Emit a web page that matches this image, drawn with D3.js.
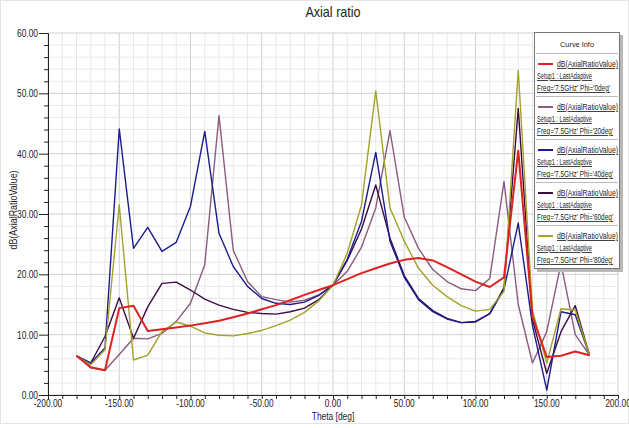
<!DOCTYPE html>
<html>
<head>
    <meta charset="utf-8">
    <title>Axial ratio</title>
    <script src="https://d3js.org/d3.v7.min.js"></script>
    <style>
        body { margin: 0; background: #fff; }
        text { font-family: "Liberation Sans", Arial, sans-serif; }
    </style>
</head>
<body>
    <div id="chart"></div>

    <script>
        const theta = [-180, -170, -160, -150, -140, -130, -120, -110, -100, -90, -80, -70, -60, -50, -40, -30, -20, -10,
                       0, 10, 20, 30, 40, 50, 60, 70, 80, 90, 100, 110, 120, 130, 140, 150, 160, 170, 180];

        const phi0  = [6.5, 4.6, 4.1, 14.4, 14.8, 10.6, 10.9, 11.2, 11.5, 11.9, 12.3, 12.9, 13.5, 14.2, 14.9, 15.7, 16.6, 17.4,
                       18.2, 19.2, 20.2, 21.0, 21.8, 22.4, 22.7, 22.3, 21.2, 20.0, 18.8, 17.9, 19.5, 40.5, 13.0, 6.3, 6.5, 7.2, 6.6];
        const phi20 = [6.5, 4.5, 4.1, 6.7, 9.4, 9.3, 10.2, 12.2, 15.2, 21.6, 46.3, 24.0, 18.8, 16.3, 15.8, 15.4, 15.7, 16.6,
                       18.2, 20.5, 24.5, 31.0, 43.8, 29.5, 24.3, 20.8, 18.8, 17.6, 17.3, 19.3, 35.4, 15.0, 5.3, 10.5, 21.8, 10.0, 6.6];
        const phi40 = [6.5, 5.3, 7.8, 44.1, 24.3, 27.8, 23.8, 25.3, 31.3, 43.7, 26.8, 21.3, 18.0, 16.0, 15.2, 15.0, 15.4, 16.5,
                       18.2, 22.5, 28.8, 40.2, 25.5, 19.5, 15.8, 13.8, 12.6, 12.0, 12.2, 13.5, 17.5, 28.5, 11.5, 0.8, 13.8, 13.3, 6.6];
        const phi60 = [6.5, 5.3, 9.7, 16.1, 9.4, 14.6, 18.5, 18.7, 17.4, 15.9, 14.9, 14.2, 13.7, 13.5, 13.4, 13.8, 14.4, 15.8,
                       18.2, 22.3, 27.5, 34.8, 26.0, 19.8, 16.0, 14.0, 12.7, 12.0, 12.1, 13.5, 17.8, 47.5, 12.5, 3.6, 10.5, 14.8, 6.6];
        const phi80 = [6.5, 5.0, 7.5, 31.5, 5.8, 6.6, 10.5, 12.1, 11.4, 10.3, 9.9, 9.8, 10.2, 10.7, 11.5, 12.4, 13.7, 15.6,
                       18.2, 23.5, 31.5, 50.4, 31.0, 25.5, 21.0, 18.2, 16.3, 14.8, 13.9, 14.2, 17.2, 53.8, 14.0, 5.3, 14.3, 14.1, 6.6];

        const seriesNames = ["Phi='0deg'", "Phi='20deg'", "Phi='40deg'", "Phi='60deg'", "Phi='80deg'"];
        const seriesValues = [phi0, phi20, phi40, phi60, phi80];
        const seriesColors = ["#dd2222", "#8c5c7c", "#1c1c90", "#3c0c44", "#a3a22a"];
        const seriesWidths = [2, 1.4, 1.4, 1.4, 1.4];
        const drawOrder = [1, 3, 2, 4, 0];

        const xTicks = [-200, -150, -100, -50, 0, 50, 100, 150, 200];
        const yTicks = [0, 10, 20, 30, 40, 50, 60];

        const W = 629, H = 428;
        const margin = {top: 33, right: 11, bottom: 33, left: 48};
        const width = W - margin.left - margin.right;
        const height = H - margin.top - margin.bottom;
        const narrow = 0.8;   // squeeze text to look like Arial Narrow
        const fmt = d => d3.format(".2f")(d).replace("\u2212", "-");

        const svg = d3.select("#chart").append("svg")
            .attr("width", W)
            .attr("height", H);

        svg.append("rect")
            .attr("x", 0.5).attr("y", 0.5)
            .attr("width", W - 1).attr("height", H - 5)
            .attr("fill", "#fff")
            .attr("stroke", "#e4e4e4");

        const g = svg.append("g")
            .attr("transform", "translate(" + margin.left + "," + margin.top + ")");

        const x = d3.scaleLinear().domain([-200, 200]).range([0, width]);
        const y = d3.scaleLinear().domain([0, 60]).range([height, 0]);

        // grid: minor every 10 deg / 2 dB, major every 50 deg / 10 dB
        g.append("g").selectAll("line")
            .data(d3.range(-200, 201, 10))
            .enter().append("line")
            .attr("x1", d => x(d)).attr("x2", d => x(d))
            .attr("y1", 0).attr("y2", height)
            .attr("stroke", d => d % 50 === 0 ? "#cfcfcf" : "#e8e8e8");

        g.append("g").selectAll("line")
            .data(d3.range(0, 61, 2))
            .enter().append("line")
            .attr("x1", 0).attr("x2", width)
            .attr("y1", d => y(d)).attr("y2", d => y(d))
            .attr("stroke", d => d % 10 === 0 ? "#cfcfcf" : "#e8e8e8");

        // axes
        const xAxis = g.append("g")
            .attr("transform", "translate(0," + height + ")")
            .call(d3.axisBottom(x).tickValues(d3.range(-200, 201, 10)).tickSize(4).tickFormat(""));
        xAxis.append("g").selectAll("text")
            .data(xTicks)
            .enter().append("text")
            .attr("transform", d => "translate(" + x(d) + ",12) scale(" + narrow + ",1)")
            .attr("text-anchor", "middle")
            .attr("fill", "#222")
            .attr("font-size", 10.5)
            .text(fmt);

        const yAxis = g.append("g")
            .call(d3.axisLeft(y).tickValues(d3.range(0, 61, 2)).tickSize(4).tickFormat(""));
        yAxis.selectAll(".tick line")
            .attr("x2", d => d % 10 === 0 ? -9 : -4);
        yAxis.append("g").selectAll("text")
            .data(yTicks)
            .enter().append("text")
            .attr("transform", d => "translate(-10," + (y(d) + 4) + ") scale(" + narrow + ",1)")
            .attr("text-anchor", "end")
            .attr("fill", "#222")
            .attr("font-size", 10.5)
            .text(fmt);

        g.selectAll(".domain").attr("stroke", "#222");
        g.selectAll(".tick line").attr("stroke", "#222");

        // curves
        const line = d3.line()
            .x((d, i) => x(theta[i]))
            .y(d => y(d));

        g.append("g").selectAll("path")
            .data(drawOrder)
            .enter().append("path")
            .attr("d", k => line(seriesValues[k]))
            .attr("fill", "none")
            .attr("stroke", k => seriesColors[k])
            .attr("stroke-width", k => seriesWidths[k])
            .attr("stroke-linejoin", "round");

        // titles
        svg.append("text")
            .attr("transform", "translate(333,17) scale(0.9,1)")
            .attr("text-anchor", "middle")
            .attr("font-size", 14)
            .attr("fill", "#222")
            .text("Axial ratio");

        svg.append("text")
            .attr("transform", "translate(" + (margin.left + x(0)) + ",420) scale(" + narrow + ",1)")
            .attr("text-anchor", "middle")
            .attr("font-size", 10.5)
            .attr("fill", "#222")
            .text("Theta [deg]");

        svg.append("text")
            .attr("transform", "translate(17,210) rotate(-90) scale(0.85,1)")
            .attr("text-anchor", "middle")
            .attr("font-size", 10.5)
            .attr("fill", "#222")
            .text("dB(AxialRatioValue)");

        // legend
        const lg = svg.append("g").attr("transform", "translate(534,32)");
        const entryH = 43;
        lg.append("rect")
            .attr("x", 3).attr("y", 3)
            .attr("width", 86).attr("height", 237)
            .attr("fill", "#b8b8b8");
        lg.append("rect")
            .attr("x", 0.5).attr("y", 0.5)
            .attr("width", 85).attr("height", 236)
            .attr("fill", "#fff")
            .attr("stroke", "#777");
        lg.append("text")
            .attr("x", 43).attr("y", 15)
            .attr("text-anchor", "middle")
            .attr("font-size", 8)
            .attr("textLength", 34)
            .attr("lengthAdjust", "spacingAndGlyphs")
            .attr("fill", "#222")
            .text("Curve Info");

        const entries = lg.selectAll("g.entry")
            .data(seriesNames)
            .enter().append("g")
            .attr("class", "entry")
            .attr("transform", (d, i) => "translate(0," + (21 + i * entryH) + ")");

        entries.append("line")
            .attr("x1", 2).attr("x2", 84)
            .attr("y1", 0.5).attr("y2", 0.5)
            .attr("stroke", "#bbb");
        entries.append("line")
            .attr("x1", 4).attr("x2", 19)
            .attr("y1", 11).attr("y2", 11)
            .attr("stroke", (d, i) => seriesColors[i])
            .attr("stroke-width", 2);
        entries.append("text")
            .attr("x", 23).attr("y", 14)
            .attr("font-size", 8.5)
            .attr("textLength", 61)
            .attr("lengthAdjust", "spacingAndGlyphs")
            .attr("fill", "#222")
            .attr("text-decoration", "underline")
            .text("dB(AxialRatioValue)");
        entries.append("text")
            .attr("x", 3).attr("y", 26)
            .attr("font-size", 8.5)
            .attr("textLength", 55)
            .attr("lengthAdjust", "spacingAndGlyphs")
            .attr("fill", "#222")
            .attr("text-decoration", "underline")
            .text("Setup1 : LastAdaptive");
        entries.append("text")
            .attr("x", 3).attr("y", 38)
            .attr("font-size", 8.5)
            .attr("textLength", (d, i) => i === 0 ? 73 : 76)
            .attr("lengthAdjust", "spacingAndGlyphs")
            .attr("fill", "#222")
            .attr("text-decoration", "underline")
            .text(d => "Freq='7.5GHz' " + d);
    </script>
</body>
</html>
